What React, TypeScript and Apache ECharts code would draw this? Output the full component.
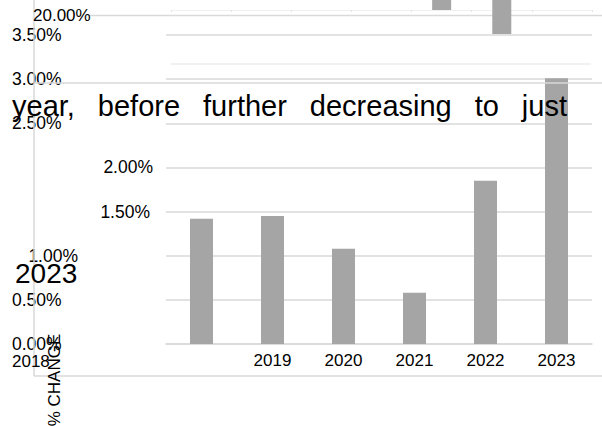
import React, { useEffect, useRef } from 'react';
import * as echarts from 'echarts';

// Annual % change, 2018–2023
const categories = ['2018', '2019', '2020', '2021', '2022', '2023'];
const changeValues = [1.42, 1.45, 1.08, 0.58, 1.85, 3.01];

// Inset strip along the top edge
const insetSlots = ['1', '2', '3', '4', '5', '6', '7'];
const insetValues: (number | null)[] = [null, null, null, null, 20, 32, null];
const insetAxisLabel = '20.00%';

// Caption fragments
const captionWords = ['year,', 'before', 'further', 'decreasing', 'to', 'just'];
const headlineYear = '2023';
const axisTitle = '% CHANGE';

const FONT = '"Liberation Sans", Arial, Helvetica, sans-serif';
const LINE = '#d9d9d9';
const BAR = '#a5a5a5';
const INK = '#000000';

function measure(text: string, size: number): number {
  const c = document.createElement('canvas');
  const ctx = c.getContext('2d');
  if (!ctx) return text.length * size * 0.5;
  ctx.font = `${size}px ${FONT}`;
  return ctx.measureText(text).width;
}

// Justify the caption words between a left and right edge
function justifiedWords(words: string[], left: number, right: number, size: number, y: number) {
  const widths = words.map((w) => measure(w, size));
  const total = widths.reduce((a, b) => a + b, 0);
  const gap = (right - left - total) / (words.length - 1);
  let x = left;
  return words.map((w, i) => {
    const el = {
      type: 'text',
      x,
      y,
      z: 100,
      style: { text: w, fontSize: size, fontFamily: FONT, fill: INK, align: 'left', verticalAlign: 'middle' },
    };
    x += widths[i] + gap;
    return el;
  });
}

export default function App() {
  const ref = useRef<HTMLDivElement>(null);

  useEffect(() => {
    if (!ref.current) return;
    const chart = echarts.init(ref.current, null, { renderer: 'svg' });

    const line = (x1: number, y1: number, x2: number, y2: number, z: number, stroke = LINE, lineWidth = 1.5) => ({
      type: 'line',
      z,
      shape: { x1, y1, x2, y2 },
      style: { stroke, lineWidth },
    });

    const yLabelStyle = { fontSize: 17.5, fontFamily: FONT, color: INK };

    chart.setOption({
      animation: false,
      backgroundColor: '#ffffff',
      grid: [
        { left: 166, right: 10, top: 35, bottom: 82, outerBoundsMode: 'none' },
        { left: 171, right: 10, top: -30, bottom: 416, outerBoundsMode: 'none' },
      ],
      xAxis: [
        {
          type: 'category',
          gridIndex: 0,
          data: categories,
          axisLine: { lineStyle: { color: LINE, width: 1.5 } },
          axisTick: { show: false },
          axisLabel: {
            margin: 8,
            fontSize: 17,
            fontFamily: FONT,
            color: INK,
            formatter: (v: string) => (v === categories[0] ? '' : v),
          },
        },
        {
          type: 'category',
          gridIndex: 1,
          data: insetSlots,
          position: 'bottom',
          axisLine: { onZero: false, lineStyle: { color: '#f0f0f0', width: 1 } },
          axisTick: { show: true, length: 2, lineStyle: { color: '#e2e2e2' } },
          axisLabel: { show: false },
        },
      ],
      yAxis: [
        {
          type: 'value',
          gridIndex: 0,
          min: 0,
          max: 3.5,
          interval: 0.5,
          axisLine: { show: false },
          axisTick: { show: false },
          splitLine: { lineStyle: { color: LINE, width: 1.5 } },
          axisLabel: {
            align: 'left',
            margin: 154,
            ...yLabelStyle,
            formatter: (v: number) => {
              const t = v.toFixed(2) + '%';
              if (Math.abs(v - 1) < 1e-9) return `{a|${t}}`;
              if (Math.abs(v - 1.5) < 1e-9) return `{b|${t}}`;
              if (Math.abs(v - 2) < 1e-9) return `{c|${t}}`;
              return t;
            },
            rich: {
              a: { ...yLabelStyle, width: 66, align: 'right' },
              b: { ...yLabelStyle, width: 138, align: 'right' },
              c: { ...yLabelStyle, width: 141, align: 'right' },
            },
          },
        },
        {
          type: 'value',
          gridIndex: 1,
          inverse: true,
          min: 0,
          max: 20,
          show: false,
        },
      ],
      series: [
        {
          type: 'bar',
          xAxisIndex: 0,
          yAxisIndex: 0,
          data: changeValues,
          barWidth: 23,
          itemStyle: { color: BAR },
          z: 2,
        },
        {
          type: 'bar',
          xAxisIndex: 1,
          yAxisIndex: 1,
          data: insetValues,
          barWidth: 19,
          clip: false,
          itemStyle: { color: BAR },
          z: 2,
        },
      ],
      graphic: [
        // frame and strip lines
        line(88, 15.5, 602, 15.5, 1),
        line(171, 64, 591, 64, 1, '#e4e4e4', 1.2),
        line(34, 0, 34, 376, 10),
        line(34, 376, 602, 376, 10),
        line(34, 83, 602, 83, 10),
        {
          type: 'text',
          x: 33,
          y: 15,
          z: 100,
          style: { text: insetAxisLabel, fontSize: 17, fontFamily: FONT, fill: INK, align: 'left', verticalAlign: 'middle' },
        },
        ...justifiedWords(captionWords, 12, 567, 29, 106),
        {
          type: 'text',
          x: 15,
          y: 273,
          z: 100,
          style: { text: headlineYear, fontSize: 28, fontFamily: FONT, fill: INK, align: 'left', verticalAlign: 'middle' },
        },
        {
          type: 'text',
          x: 12,
          y: 361,
          z: 100,
          style: { text: categories[0], fontSize: 17, fontFamily: FONT, fill: INK, align: 'left', verticalAlign: 'middle' },
        },
        {
          type: 'text',
          x: 54,
          y: 380,
          z: 100,
          rotation: Math.PI / 2,
          style: { text: axisTitle, fontSize: 17, fontFamily: FONT, fill: INK, align: 'center', verticalAlign: 'middle' },
        },
      ],
    });

    return () => chart.dispose();
  }, []);

  return (
    <div
      ref={ref}
      style={{ position: 'fixed', left: 0, top: 0, width: 602, height: 426, background: '#fff' }}
    />
  );
}
